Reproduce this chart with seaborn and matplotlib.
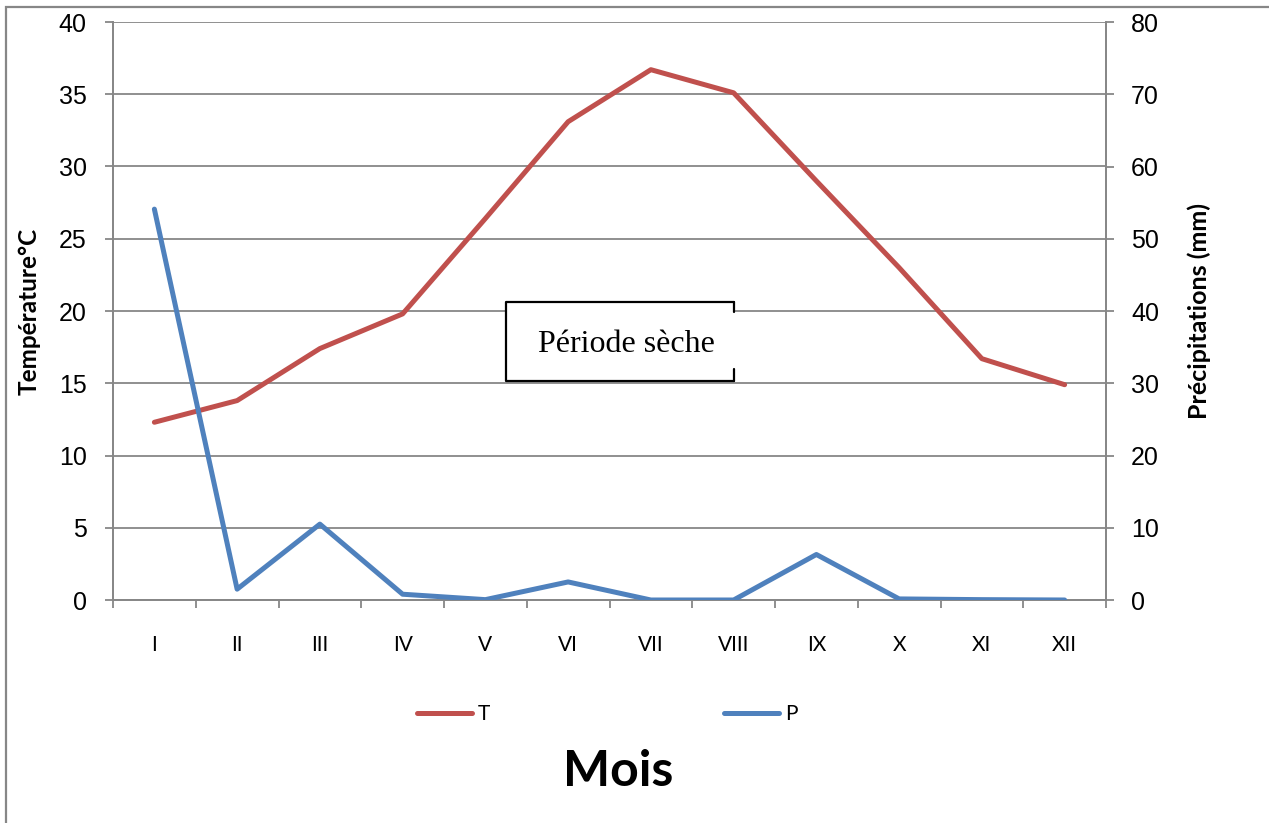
import matplotlib
matplotlib.use("Agg")
import matplotlib.pyplot as plt
import seaborn as sns
import pandas as pd
import numpy as np
from matplotlib.lines import Line2D
from matplotlib.patches import Rectangle

# ---- data ----
months = ["I", "II", "III", "IV", "V", "VI", "VII", "VIII", "IX", "X", "XI", "XII"]
temperature = [12.3, 13.8, 17.4, 19.8, 26.4, 33.1, 36.7, 35.1, 29.0, 23.0, 16.7, 14.9]
precipitation = [54.1, 1.5, 10.5, 0.8, 0.05, 2.5, 0.0, 0.0, 6.3, 0.15, 0.05, 0.0]
left_ticks = [0, 5, 10, 15, 20, 25, 30, 35, 40]
right_ticks = [0, 10, 20, 30, 40, 50, 60, 70, 80]

df = pd.DataFrame({"Mois": months, "T": temperature, "P": precipitation})

sns.set_theme(style="white")
plt.rcParams["font.family"] = ["Liberation Sans", "DejaVu Sans"]
plt.rcParams["text.color"] = "black"
plt.rcParams["axes.labelcolor"] = "black"

W, H = 1269, 823
fig = plt.figure(figsize=(W / 100, H / 100), dpi=100)
fig.patch.set_facecolor("white")

x0, x1, y0, y1 = 113, 1106, 22, 600
ax = fig.add_axes([x0 / W, 1 - y1 / H, (x1 - x0) / W, (y1 - y0) / H])
ax2 = ax.twinx()

red = "#C0504D"
blue = "#4F81BD"
grey = "#878787"

xpos = np.arange(len(months))
df["x"] = xpos

sns.lineplot(data=df, x="x", y="T", ax=ax, color=red, linewidth=3.6,
             sort=False, legend=False, solid_capstyle="round", zorder=3)
sns.lineplot(data=df, x="x", y="P", ax=ax2, color=blue, linewidth=3.6,
             sort=False, legend=False, solid_capstyle="round", zorder=3)

ax.set_xlim(-0.5, len(months) - 0.5)
ax.set_ylim(0, 40)
ax2.set_ylim(0, 80)
ax.set_yticks(left_ticks)
ax2.set_yticks(right_ticks)
ax.set_xticks(xpos)
ax.set_xticklabels(months, family=["Lato", "DejaVu Sans"], fontsize=15, color="black")
ax.set_xticks(np.arange(-0.5, len(months)), minor=True)

ax.yaxis.grid(True, color=grey, linewidth=1.3)
ax.xaxis.grid(False)
ax2.grid(False)

for a in (ax, ax2):
    for s in a.spines.values():
        s.set_color(grey)
        s.set_linewidth(1.3)
    a.spines["top"].set_visible(False)
    a.patch.set_alpha(0)

ax.tick_params(axis="x", which="major", length=0, pad=25, colors="black")
ax.tick_params(axis="x", which="minor", length=6, width=1.3, color=grey, direction="out", bottom=True)
ax.tick_params(axis="y", which="major", length=6, width=1.3, color=grey, direction="out",
               left=True, pad=13, labelsize=18, labelcolor="black")
ax2.tick_params(axis="y", which="major", length=6, width=1.3, color=grey, direction="out",
                right=True, pad=12, labelsize=18, labelcolor="black")

ax.set_xlabel("")
ax.set_ylabel("Température°C", family=["Lato", "DejaVu Sans"], fontweight="bold",
              fontsize=17.5, color="black")
ax2.set_ylabel("Précipitations (mm)", family=["Lato", "DejaVu Sans"], fontweight="bold",
               fontsize=18, color="black")
ax.yaxis.set_label_coords((41 - x0) / (x1 - x0), 0.5)
ax2.yaxis.set_label_coords((1187 - x0) / (x1 - x0), 0.5)

# "Période sèche" box
bx0, bx1, by0, by1 = 506 / W, 734 / W, 1 - 381 / H, 1 - 302 / H
box_kw = dict(color="black", linewidth=1.6, transform=fig.transFigure, zorder=10)
fig.add_artist(Rectangle((bx0, by0), bx1 - bx0, by1 - by0, transform=fig.transFigure,
                         facecolor="white", edgecolor="none", zorder=9))
fig.add_artist(Line2D([bx1, bx0, bx0, bx1], [by1, by1, by0, by0], **box_kw))
fig.add_artist(Line2D([bx1, bx1], [by1, 1 - 312 / H], **box_kw))
fig.add_artist(Line2D([bx1, bx1], [by0, 1 - 369 / H], **box_kw))
fig.text(626 / W, 1 - 344 / H, "Période sèche", family=["Liberation Serif", "DejaVu Serif"],
         fontsize=23, ha="center", va="center", color="black", zorder=11)

# legend
handles = [Line2D([], [], color=red, linewidth=3.6, solid_capstyle="round"),
           Line2D([], [], color=blue, linewidth=3.6, solid_capstyle="round")]
leg = fig.legend(handles, ["T", "P"], loc="center", bbox_to_anchor=(607 / W, 1 - 714 / H),
                 ncol=2, frameon=False, handlelength=2.65, handletextpad=0.3,
                 columnspacing=11.2, prop={"family": ["Lato", "DejaVu Sans"], "size": 15})
for t in leg.get_texts():
    t.set_color("black")

fig.text(618 / W, 1 - 772 / H, "Mois", family=["Lato", "DejaVu Sans"], fontweight="bold",
         fontsize=36, ha="center", va="center", color="black")

# outer chart border
fig.add_artist(Rectangle((6 / W, -0.05), 1.1, 1 - 7 / H + 0.05, transform=fig.transFigure,
                         facecolor="none", edgecolor=grey, linewidth=1.6, zorder=0))

fig.savefig("out.png", dpi=100, facecolor="white")
